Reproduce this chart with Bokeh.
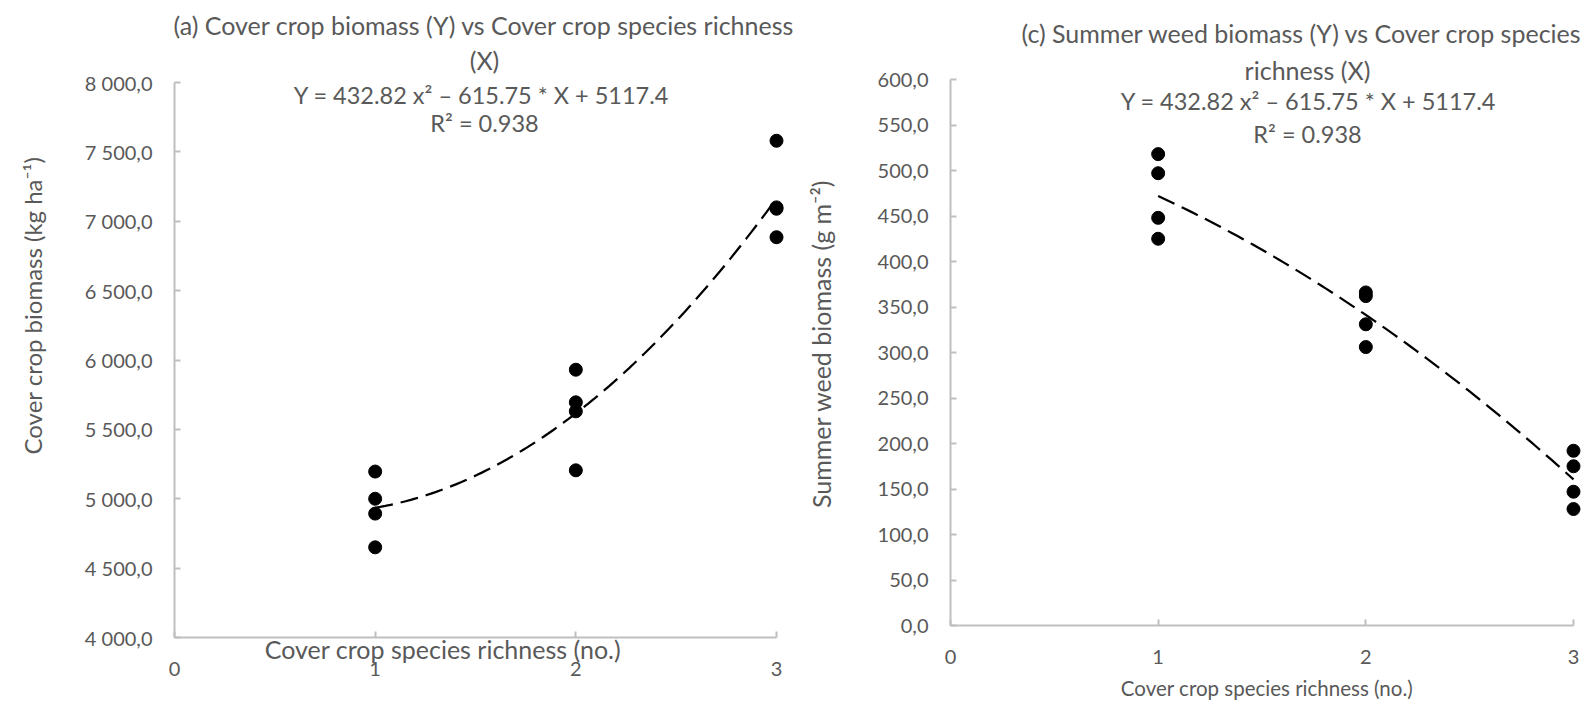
import numpy as np
from bokeh.plotting import figure
from bokeh.models import Label, FixedTicker, Title
from bokeh.layouts import row
from bokeh.embed import file_html
from bokeh.resources import INLINE

# ---------------- data ----------------
richness = [1, 1, 1, 1, 2, 2, 2, 2, 3, 3, 3, 3]
cover_biomass = [5196, 5000, 4893, 4650, 5930, 5695, 5630, 5205, 7580, 7100, 7090, 6885]
weed_biomass = [518, 497, 448, 425, 366, 362, 331, 306, 192, 175, 147, 128]

x_ticks = [0, 1, 2, 3]
x_tick_labels = ["0", "1", "2", "3"]
a_y_ticks = [4000, 4500, 5000, 5500, 6000, 6500, 7000, 7500, 8000]
a_y_tick_labels = ["4 000,0", "4 500,0", "5 000,0", "5 500,0", "6 000,0",
                   "6 500,0", "7 000,0", "7 500,0", "8 000,0"]
c_y_ticks = [0, 50, 100, 150, 200, 250, 300, 350, 400, 450, 500, 550, 600]
c_y_tick_labels = ["0,0", "50,0", "100,0", "150,0", "200,0", "250,0", "300,0",
                   "350,0", "400,0", "450,0", "500,0", "550,0", "600,0"]

title_a = ["(a) Cover crop biomass (Y) vs Cover crop species richness", "(X)"]
title_c = ["(c) Summer weed biomass (Y) vs Cover crop species", "richness (X)"]
eq_text = "Y = 432.82 x\u00b2 \u2013 615.75 * X + 5117.4"
r2_text = "R\u00b2 = 0.938"
x_title = "Cover crop species richness (no.)"
a_y_title = "Cover crop biomass (kg ha\u207b\u00b9)"
c_y_title = "Summer weed biomass (g m\u207b\u00b2)"

FONT = "Lato"
WFS = "25px"      # word text size (titles, axis titles)
EFS = "23.5px"    # equation / R2 size
KFS = "20px"      # tick label size
TXT = "#595959"
AXC = "#BFBFBF"
H = 709
EXT = 10          # extra frame px right of x=3 so edge markers are not clipped
EM = "\u2003"     # em space, used to shift axis titles off-centre


def style_title(t, size=WFS):
    t.text_font = FONT
    t.text_font_size = size
    t.text_font_style = "normal"
    t.text_color = TXT
    return t


def set_axis_label(ax, text, standoff, size=WFS):
    ax.axis_label = text
    ax.axis_label_standoff = standoff
    ax.axis_label_text_font = FONT
    ax.axis_label_text_font_size = size
    ax.axis_label_text_font_style = "normal"
    ax.axis_label_text_color = TXT


def make_fig(width, left, right, top, bottom, yr, ybounds, xr_end, yticks, ylabels, title):
    p = figure(width=width, height=H, x_range=(0, xr_end), y_range=yr,
               output_backend="svg", toolbar_location=None, frame_align=False,
               min_border_left=left, min_border_right=right,
               min_border_top=top, min_border_bottom=bottom)
    p.title.text = title
    p.title.align = "left"
    p.title.vertical_align = "bottom"
    style_title(p.title)
    p.grid.visible = False
    p.outline_line_color = None
    p.background_fill_color = "white"
    p.border_fill_color = "white"
    for ax in (p.xaxis[0], p.yaxis[0]):
        ax.axis_line_color = AXC
        ax.axis_line_width = 2
        ax.major_tick_line_color = AXC
        ax.major_tick_line_width = 2
        ax.major_tick_in = 6
        ax.major_tick_out = 0
        ax.minor_tick_line_color = None
        ax.major_label_text_font = FONT
        ax.major_label_text_font_size = KFS
        ax.major_label_text_color = TXT
    p.xaxis[0].ticker = FixedTicker(ticks=x_ticks)
    p.xaxis[0].major_label_overrides = {t: l for t, l in zip(x_ticks, x_tick_labels)}
    p.xaxis[0].bounds = (0, 3)
    p.xaxis[0].major_label_standoff = 24
    p.yaxis[0].ticker = FixedTicker(ticks=yticks)
    p.yaxis[0].major_label_overrides = {t: l for t, l in zip(yticks, ylabels)}
    p.yaxis[0].major_label_standoff = 22
    p.yaxis[0].bounds = ybounds
    return p


def add_text(p, x, y, text, size):
    p.add_layout(Label(x=x, y=y, text=text, text_font=FONT, text_font_size=size,
                       text_color=TXT, text_align="center", text_baseline="middle"))


xs = np.linspace(1, 3, 80)

# ---------------- chart (a) ----------------
A_L, A_B, A_PX = 174.0, 637.0, 602.0 / 3      # frame left, x-axis y (px), px per x unit
A_PY = 555.0 / 4000
A_TOP = 45


def ax_(px):
    return (px - A_L) / A_PX


def ay_(py):
    return 4000 + (A_B - py) / A_PY


pa = make_fig(800, 174, 800 - 776 - EXT, A_TOP, H - 637, (4000, ay_(A_TOP)), (4000, 8000),
              3 + EXT / A_PX, a_y_ticks, a_y_tick_labels, title_a[0])
pa.title.offset = -1
pa.title.standoff = 12

ca = np.polyfit(richness, cover_biomass, 2)
pa.line(xs, np.polyval(ca, xs), line_color="black", line_width=2.25, line_dash="18 8")
pa.scatter(richness, cover_biomass, size=13, color="black")

add_text(pa, ax_(484), ay_(59.5), title_a[1], WFS)
add_text(pa, ax_(481), ay_(94.5), eq_text, EFS)
add_text(pa, ax_(484), ay_(122), r2_text, EFS)

set_axis_label(pa.yaxis[0], EM * 4 + a_y_title, 35, "24px")
# x title sits just under the axis line, above the tick labels
set_axis_label(pa.xaxis[0], x_title + EM * 4, -45)

# ---------------- chart (c) ----------------
C_L, C_B, C_PX = 950.0, 625.0, 623.0 / 3
C_PY = 546.0 / 600
C_TOP = 49


def cx_(px):
    return (px - C_L) / C_PX


def cy_(py):
    return (C_B - py) / C_PY


pc = make_fig(791, 150, 1591 - 1573 - EXT, C_TOP, H - 625, (0, cy_(C_TOP)), (0, 600),
              3 + EXT / C_PX, c_y_ticks, c_y_tick_labels, title_c[0])
pc.title.offset = 71
pc.title.standoff = 4

cc = np.polyfit(richness, weed_biomass, 2)
pc.line(xs, np.polyval(cc, xs), line_color="black", line_width=2.25, line_dash="18 8")
pc.scatter(richness, weed_biomass, size=13, color="black")

add_text(pc, cx_(1307), cy_(69), title_c[1], WFS)
add_text(pc, cx_(1308), cy_(100.5), eq_text, EFS)
add_text(pc, cx_(1307), cy_(133), r2_text, EFS)

set_axis_label(pc.yaxis[0], c_y_title + "\u2002", 39)
pc.add_layout(style_title(Title(text=x_title, align="center",
                                vertical_align="bottom", standoff=14), "20.5px"), "below")

layout = row(pa, pc)
open("out.html", "w").write(file_html(layout, INLINE))
